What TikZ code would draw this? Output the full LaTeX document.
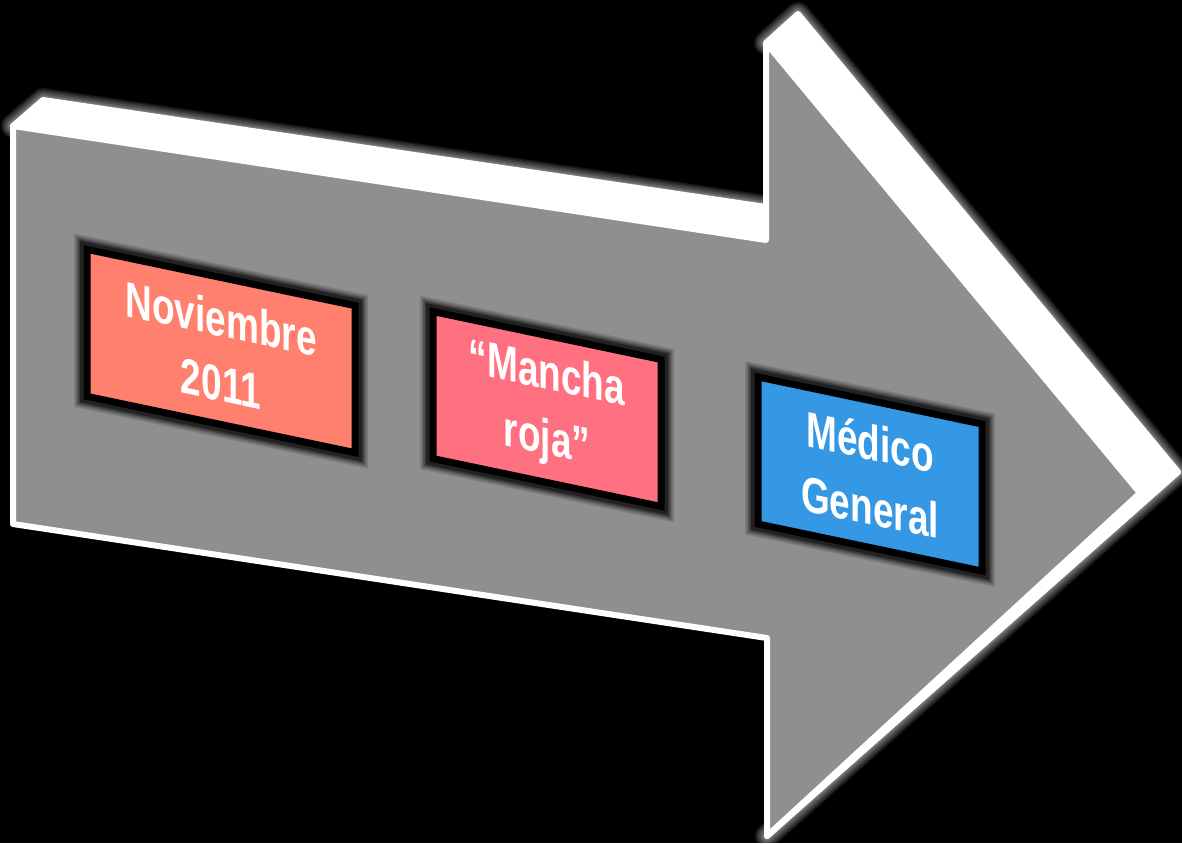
\documentclass[tikz,border=0pt]{standalone}
\usepackage{fontspec}
\usetikzlibrary{positioning}
\newfontfamily\boxfont{Liberation Sans}[FakeStretch=0.74]
\definecolor{arrowgray}{RGB}{143,143,143}
\definecolor{novcolor}{RGB}{255,128,110}
\definecolor{manchacolor}{RGB}{255,112,128}
\definecolor{medicocolor}{RGB}{53,152,228}

\begin{document}
\begin{tikzpicture}[
         x=0.5pt, y=-0.5pt,
         face/.style={fill=arrowgray, draw=white, line width=3pt, line join=round},
         side/.style={fill=white, draw=white, line width=3pt, line join=round},
         glow/.style={draw=white, line cap=round, line join=round, opacity=0.09},
         event/.style={draw=black, line width=3.5pt, yslant=-0.21, inner sep=0pt,
            minimum height=73.5pt, text=white, align=center,
            font=\boxfont\bfseries\fontsize{25pt}{32.5pt}\selectfont,
            preaction={draw=black, line width=13pt, opacity=0.12},
            preaction={draw=black, line width=11.5pt, opacity=0.15},
            preaction={draw=black, line width=10pt, opacity=0.2},
            preaction={draw=black, line width=8.5pt, opacity=0.3},
            preaction={draw=black, line width=7pt, opacity=0.4}}
      ]
         % Background
         \useasboundingbox (0,0) rectangle (1182,843);
         \fill[black] (0,0) rectangle (1182,843);

         % Corners of the arrow (front and back)
         \coordinate (tl) at (13,126);
         \coordinate (tlb) at (43,100);
         \coordinate (nt) at (766,240);
         \coordinate (ntb) at (766,207);
         \coordinate (ht) at (766,43);
         \coordinate (htb) at (798,14);
         \coordinate (tip) at (1140,493);
         \coordinate (tipb) at (1178,472);
         \coordinate (hb) at (767,836);
         \coordinate (nb) at (767,638);
         \coordinate (bl) at (13,524);

         % Soft glow round the upper edges
         \foreach \w in {12,10.5,9,7.5,6,5,4} {
            \draw[glow, line width=\w pt] (tl) -- (tlb) -- (ntb);
            \draw[glow, line width=\w pt] (ht) -- (htb) -- (tipb) -- (hb);
         }

         % Sides of the arrow
         \draw[side] (tl) -- (tlb) -- (ntb) -- (nt) -- cycle;
         \draw[side] (ht) -- (htb) -- (tipb) -- (tip) -- cycle;
         \draw[side] (tip) -- (tipb) -- (hb) -- cycle;

         % Front of the arrow
         \draw[face] (tl) -- (nt) -- (ht) -- (tip) -- (hb) -- (nb) -- (bl) -- cycle;

         % Boxes on the arrow
         \node[event, fill=novcolor, minimum width=134pt] (nov) at (221,351) {Noviembre\\2011};
         \node[event, fill=manchacolor, minimum width=114pt] (mancha) at (547,409) {“Mancha\\roja”};
         \node[event, fill=medicocolor, minimum width=112pt] (medico) at (870,474) {Médico\\General};

      \end{tikzpicture}
\end{document}
